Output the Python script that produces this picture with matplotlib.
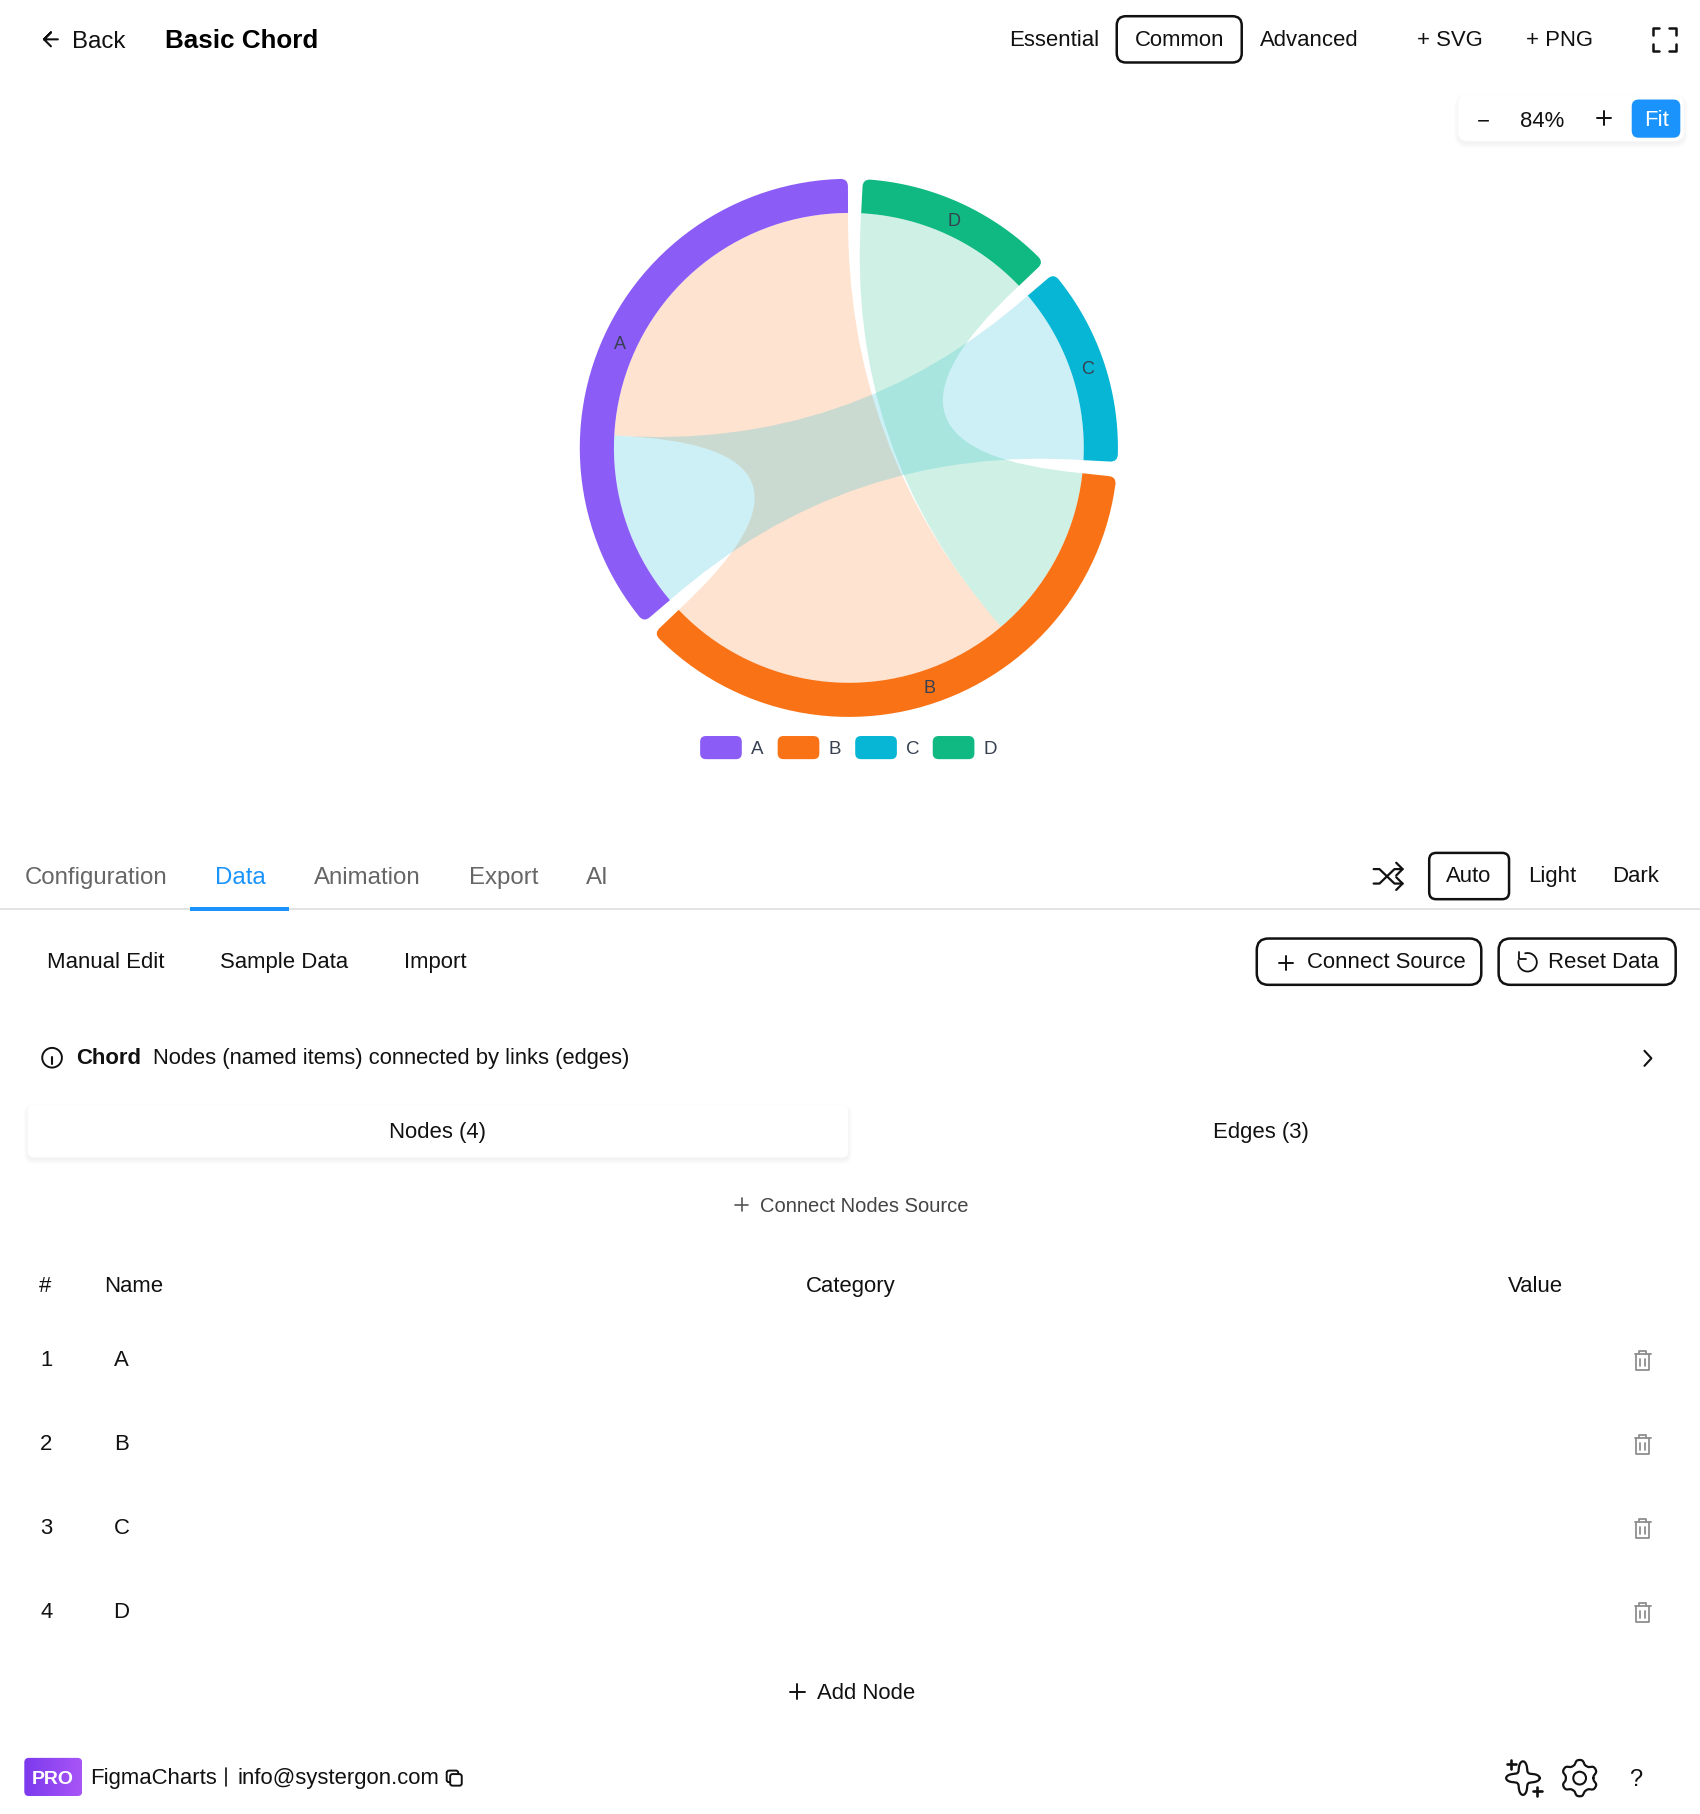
import numpy as np
import matplotlib
matplotlib.use('Agg')
import matplotlib.pyplot as plt
from matplotlib.patches import Circle, FancyBboxPatch, PathPatch, Polygon
from matplotlib.path import Path

plt.rcParams['font.family'] = ['Liberation Sans', 'DejaVu Sans']

# chord data
node_names = ['A', 'B', 'C', 'D']
node_colors = ['#8b5cf6', '#f97316', '#06b6d4', '#10b981']
edge_source = ['A', 'A', 'B']
edge_target = ['B', 'C', 'D']
edge_values = [20, 10, 10]
edge_colors = ['#f97316', '#06b6d4', '#10b981']

# page text
top_modes = ['Essential', 'Common', 'Advanced']
tabs = ['Configuration', 'Data', 'Animation', 'Export', 'AI']
themes = ['Auto', 'Light', 'Dark']
data_modes = ['Manual Edit', 'Sample Data', 'Import']
table_index = ['1', '2', '3', '4']
table_names = ['A', 'B', 'C', 'D']

W, H = 1469, 1567.5
CX, CY = 733.5, 387
R_OUT, R_IN = 232.5, 203
GAP = 3.2
START = 0.2
BLUE = '#1a94fc'
BEND = 0.045

fig = plt.figure(figsize=(17, 18.14), dpi=100)
ax = fig.add_axes([0, 0, 1, 1])
ax.set_xlim(0, W)
ax.set_ylim(H, 0)
ax.axis('off')


def pt(r, a):
    # a is degrees counter-clockwise from the top
    a = np.radians(a)
    return [CX - r * np.sin(a), CY - r * np.cos(a)]


def arc(r, a0, a1, n=60):
    return [pt(r, a) for a in np.linspace(a0, a1, n)]


def layout():
    k = (360 - GAP * len(node_names)) / (2 * sum(edge_values))
    a = START
    spans = {}
    links = {}
    for name in node_names:
        start = a
        for i, v in enumerate(edge_values):
            if name in (edge_source[i], edge_target[i]):
                links[(i, name)] = (a, a + v * k)
                a += v * k
        spans[name] = (start, a)
        a += GAP
    return spans, links


def ring(a0, a1, color):
    c = 1.6  # corner size in degrees
    v = arc(R_IN, a0, a1)
    codes = [Path.MOVETO] + [Path.LINETO] * (len(v) - 1)
    v.append(pt(R_OUT - 6.5, a1))
    codes.append(Path.LINETO)
    v += [pt(R_OUT, a1), pt(R_OUT, a1 - c)]
    codes += [Path.CURVE3, Path.CURVE3]
    o = arc(R_OUT, a1 - c, a0 + c)
    v += o
    codes += [Path.LINETO] * len(o)
    v += [pt(R_OUT, a0), pt(R_OUT - 6.5, a0)]
    codes += [Path.CURVE3, Path.CURVE3]
    v.append(pt(R_IN, a0))
    codes.append(Path.LINETO)
    ax.add_patch(PathPatch(Path(v, codes), fc=color, ec='none', zorder=3))


def control(a0, a1):
    # control point sits a little past the centre, away from the chord middle
    p0, p1 = np.array(pt(R_IN, a0)), np.array(pt(R_IN, a1))
    c = np.array([CX, CY])
    return list(c - BEND * ((p0 + p1) / 2 - c))


def ribbon(s, t, color):
    v = arc(R_IN, s[0], s[1])
    codes = [Path.MOVETO] + [Path.LINETO] * (len(v) - 1)
    v += [control(s[1], t[0]), pt(R_IN, t[0])]
    codes += [Path.CURVE3, Path.CURVE3]
    o = arc(R_IN, t[0], t[1])
    v += o
    codes += [Path.LINETO] * len(o)
    v += [control(t[1], s[0]), pt(R_IN, s[0])]
    codes += [Path.CURVE3, Path.CURVE3]
    ax.add_patch(PathPatch(Path(v, codes), fc=color, ec='none', alpha=0.2, zorder=2))


def txt(x, y, s, size=15.9, color='#111111', ha='left', weight='normal', z=6):
    ax.text(x, y - 0.7, s, fontsize=size, color=color, ha=ha, va='center_baseline', fontweight=weight, zorder=z)


def rbox(x0, y0, x1, y1, r=7, fc='white', ec='none', lw=1.8, z=1, alpha=None):
    ax.add_patch(FancyBboxPatch((x0 + r, y0 + r), x1 - x0 - 2 * r, y1 - y0 - 2 * r,
                                boxstyle=f'round,pad={r},rounding_size={r}',
                                fc=fc, ec=ec, lw=lw, zorder=z, alpha=alpha))


def line(xs, ys, color='#111111', lw=1.6, z=6):
    ax.plot(xs, ys, color=color, lw=lw, zorder=z, solid_capstyle='round', solid_joinstyle='round')


def plus(x, y, s=6, color='#111111', lw=1.4):
    line([x - s, x + s], [y, y], color, lw)
    line([x, x], [y - s, y + s], color, lw)


def shadow(x0, y0, x1, y1, r=7):
    for i in range(4):
        d = i * 1.1
        rbox(x0 - d, y0 - d + 2.5, x1 + d, y1 + d + 2.5, r + d, fc='black', z=0.5, alpha=0.012)


def trash(x, y):
    c = '#8f8f8f'
    line([x - 7, x + 7], [y - 6, y - 6], c, 1.3)
    line([x - 3, x - 3, x + 3, x + 3], [y - 6, y - 9, y - 9, y - 6], c, 1.3)
    line([x - 5.5, x - 5.5, x + 5.5, x + 5.5], [y - 6, y + 8, y + 8, y - 6], c, 1.3)
    line([x - 2, x - 2], [y - 2, y + 4], c, 1.3)
    line([x + 2, x + 2], [y - 2, y + 4], c, 1.3)


# chord
spans, links = layout()
for i in range(len(edge_values)):
    ribbon(links[(i, edge_source[i])], links[(i, edge_target[i])], edge_colors[i])
for name, color in zip(node_names, node_colors):
    a0, a1 = spans[name]
    ring(a0, a1, color)
    x, y = pt((R_IN + R_OUT) / 2, (a0 + a1) / 2)
    ax.text(x, y + 1.8, name, fontsize=13, color='#374151', ha='center', va='center', zorder=5)

# legend
for i, (name, color) in enumerate(zip(node_names, node_colors)):
    x = 605 + i * 67
    rbox(x, 636, x + 36, 656, 5, fc=color)
    txt(x + 44, 647, name, 13.5, '#374151')

# header
line([50, 38, 44, 38, 44], [34, 34, 28, 34, 40], lw=1.5)
txt(62, 34.5, 'Back', 17.3)
txt(143, 34, 'Basic Chord', 18.7, '#000000', weight='bold')
for s, x in zip(top_modes, [911, 1019, 1131]):
    txt(x, 33.5, s, ha='center')
rbox(965, 14, 1073, 54, 8, ec='#111111')
txt(1253, 33.5, '+ SVG', ha='center')
txt(1348, 33.5, '+ PNG', ha='center')
for sx, sy in [(-1, -1), (1, -1), (-1, 1), (1, 1)]:
    x, y = 1438 + sx * 10, 34 + sy * 10
    line([x, x, x - sx * 6], [y - sy * 6, y, y], lw=1.8)

# zoom control
shadow(1260, 82, 1455, 122, 8)
rbox(1260, 82, 1455, 122, 8, z=1)
txt(1282, 103.5, '−', ha='center')
txt(1333, 103.5, '84%', ha='center')
plus(1386, 102, 6)
rbox(1410, 86, 1452, 119, 6, fc=BLUE, z=2)
txt(1431, 102.5, 'Fit', color='white', ha='center')

# tabs
for s, x, c in zip(tabs, [21, 186, 271, 405, 506], ['#666666', BLUE, '#666666', '#666666', '#666666']):
    txt(x, 757, s, 17.3, color=c)
ax.add_patch(Polygon([[0, 785], [W, 785], [W, 786.5], [0, 786.5]], fc='#e3e3e3', ec='none', zorder=2))
ax.add_patch(Polygon([[164, 783.5], [250, 783.5], [250, 787], [164, 787]], fc=BLUE, ec='none', zorder=3))

# shuffle icon
line([1187, 1192, 1205, 1212], [751, 751, 763.5, 763.5], lw=1.6)
line([1187, 1192, 1205, 1212], [763.5, 763.5, 751, 751], lw=1.6)
line([1206.5, 1212, 1206.5], [745.5, 751, 756.5], lw=1.6)
line([1206.5, 1212, 1206.5], [758, 763.5, 769], lw=1.6)

for s, x in zip(themes, [1269, 1341, 1413]):
    txt(x, 756, s, ha='center')
rbox(1235, 737, 1304, 777, 6, ec='#111111')

# data toolbar
for s, x in zip(data_modes, [41, 190, 349]):
    txt(x, 830.5, s)
rbox(1086, 811, 1280, 851, 10, ec='#111111')
plus(1111, 832, 6)
txt(1129, 830.5, 'Connect Source')
rbox(1295, 811, 1448, 851, 10, ec='#111111')
t = np.radians(np.linspace(-105, 190, 40))
line(1320 + 8 * np.cos(t), 831.5 + 8 * np.sin(t), lw=1.3)
line([1313, 1313, 1319], [823, 829, 829], lw=1.3)
txt(1338, 830.5, 'Reset Data')

# info row
ax.add_patch(Circle((45, 914), 8.5, fc='none', ec='#111111', lw=1.4, zorder=6))
line([45, 45], [913, 919], lw=1.5)
line([45, 45], [909, 909.2], lw=1.8)
txt(66, 913.5, 'Chord', 15.9, weight='bold')
txt(132, 913.5, 'Nodes (named items) connected by links (edges)', 15.85)
line([1421, 1427, 1421], [908, 914.5, 921], lw=1.5)

# nodes / edges switch
shadow(24, 955, 733, 1000, 5)
rbox(24, 955, 733, 1000, 5, z=1)
txt(378, 977.5, 'Nodes (4)', ha='center')
txt(1090, 977.5, 'Edges (3)', ha='center')
plus(641, 1041, 5.5, '#555555', 1.2)
txt(657, 1041.5, 'Connect Nodes Source', 14.5, '#444444')

# table
txt(34, 1110.5, '#')
txt(90, 1110.5, 'Name')
txt(735, 1110.5, 'Category', ha='center')
txt(1327, 1110.5, 'Value', ha='center')
for i, (n, name) in enumerate(zip(table_index, table_names)):
    y = 1174 + i * 72.6
    txt(40, y + 0.5, n, ha='center')
    txt(105, y + 0.5, name, ha='center')
    trash(1419.5, y + 2)

plus(689, 1462, 6.5)
txt(706, 1461.5, 'Add Node')

# footer
grad = np.linspace(0, 1, 64).reshape(1, -1)
cmap = matplotlib.colors.LinearSegmentedColormap.from_list('pro', ['#7c3aed', '#a855f7'])
im = ax.imshow(grad, extent=(21, 71, 1552, 1519), cmap=cmap, aspect='auto', zorder=2)
clip = FancyBboxPatch((25, 1523), 42, 25, boxstyle='round,pad=4,rounding_size=4', transform=ax.transData)
im.set_clip_path(clip)
ax.set_xlim(0, W)
ax.set_ylim(H, 0)
txt(46, 1536.5, 'PRO', 14, 'white', ha='center', weight='bold')
txt(78, 1535.5, 'FigmaCharts')
line([195.5, 195.5], [1528, 1543], lw=1.2)
txt(205, 1535.5, 'info@systergon.com')
rbox(389, 1533, 399, 1543, 2, fc='white', ec='#111111', lw=1.4, z=7)
rbox(386, 1530, 396, 1540, 2, fc='white', ec='#111111', lw=1.4, z=6)

# star icon
t = np.linspace(0, 2 * np.pi, 300)
rad = 6.5 + 8 * np.abs(np.cos(2 * t)) ** 3
line(1316 + rad * np.cos(t), 1536.5 + rad * np.sin(t), lw=1.6)
plus(1305.8, 1524.7, 3.8, lw=1.9)
plus(1328.5, 1548, 3.8, lw=1.9)

# gear icon
rad = 13.8 + 1.9 * np.tanh(1.5 * np.cos(6 * (t - np.pi / 2))) / np.tanh(1.5)
line(1365 + rad * np.cos(t), 1536.5 + rad * np.sin(t), lw=1.6)
ax.add_patch(Circle((1365, 1536.5), 5.5, fc='none', ec='#111111', lw=1.5, zorder=6))
txt(1413.5, 1536.5, '?', 17, ha='center')

fig.savefig('out.png', dpi=100)
